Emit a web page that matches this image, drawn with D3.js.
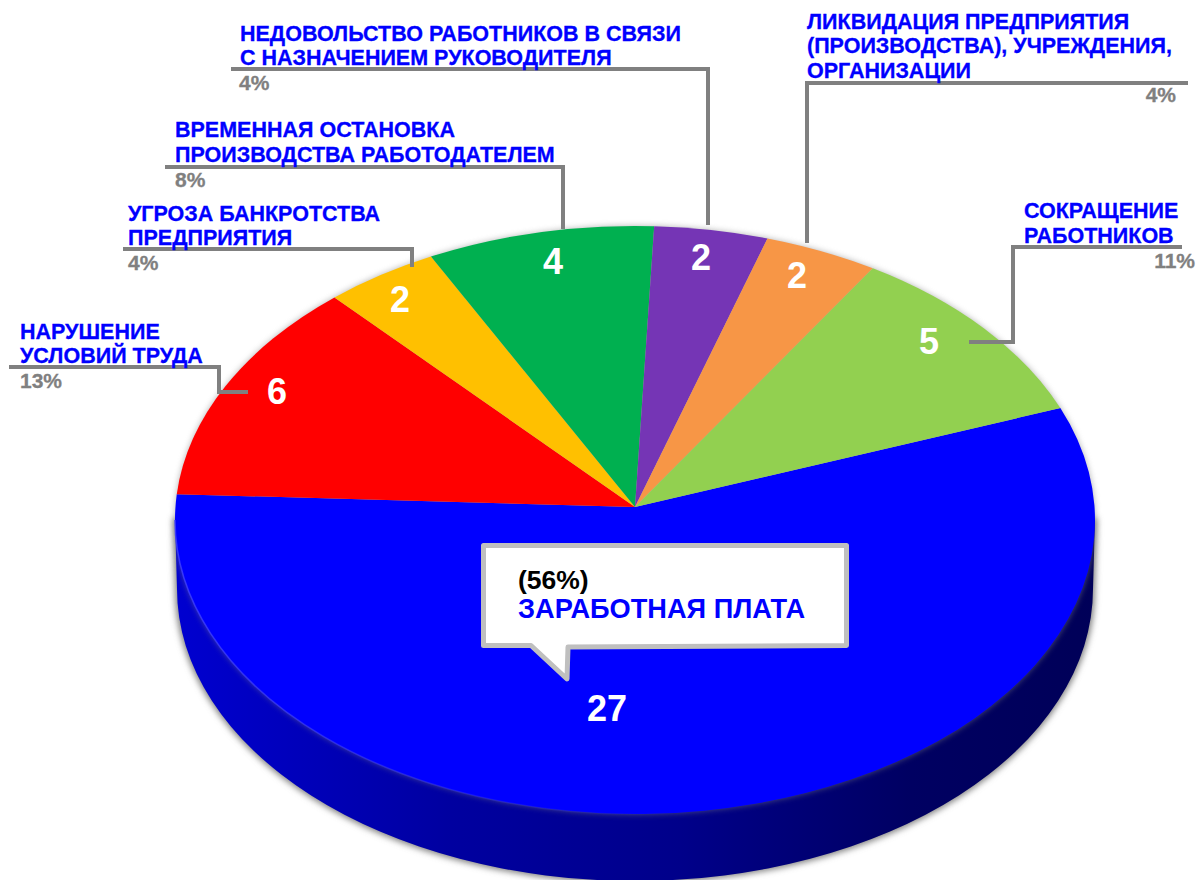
<!DOCTYPE html>
<html>
<head>
<meta charset="utf-8">
<script src="https://cdn.jsdelivr.net/npm/d3@7"></script>
<style>
  html, body { margin: 0; padding: 0; background: #fff; overflow: hidden; }
  text { font-family: "Liberation Sans", Arial, sans-serif; font-weight: bold; }
</style>
</head>
<body>
<div id="chart"></div>
<script>
// pie values, clockwise from the blue slice
const categories = ["ЗАРАБОТНАЯ ПЛАТА", "НАРУШЕНИЕ УСЛОВИЙ ТРУДА", "УГРОЗА БАНКРОТСТВА ПРЕДПРИЯТИЯ",
    "ВРЕМЕННАЯ ОСТАНОВКА ПРОИЗВОДСТВА РАБОТОДАТЕЛЕМ", "НЕДОВОЛЬСТВО РАБОТНИКОВ В СВЯЗИ С НАЗНАЧЕНИЕМ РУКОВОДИТЕЛЯ",
    "ЛИКВИДАЦИЯ ПРЕДПРИЯТИЯ (ПРОИЗВОДСТВА), УЧРЕЖДЕНИЯ, ОРГАНИЗАЦИИ", "СОКРАЩЕНИЕ РАБОТНИКОВ"];
const values = [27, 6, 2, 4, 2, 2, 5];
const percents = ["56%", "13%", "4%", "8%", "4%", "4%", "11%"];
const colors = ["#0000ff", "#ff0000", "#ffc000", "#00b050", "#7535b5", "#f79646", "#92d050"];

const width = 1196, height = 880;
const cx = 635, cy = 520, rx = 460, ry = 294;
const apexY = 507;   // pie centre sits above the ellipse centre (perspective)
const depth = 69;
const startAngle = 70 * Math.PI / 180;

const svg = d3.select("#chart").append("svg")
    .attr("width", width).attr("height", height)
    .style("display", "block");

const defs = svg.append("defs");

const sideGrad = defs.append("linearGradient").attr("id", "side")
    .attr("gradientUnits", "userSpaceOnUse")
    .attr("x1", cx - rx).attr("x2", cx + rx).attr("y1", 0).attr("y2", 0);
sideGrad.append("stop").attr("offset", 0).attr("stop-color", "#0000d0");
sideGrad.append("stop").attr("offset", 0.3).attr("stop-color", "#0000a0");
sideGrad.append("stop").attr("offset", 0.55).attr("stop-color", "#00008a");
sideGrad.append("stop").attr("offset", 0.8).attr("stop-color", "#000062");
sideGrad.append("stop").attr("offset", 1).attr("stop-color", "#000058");

const rimGrad = defs.append("linearGradient").attr("id", "rim")
    .attr("gradientUnits", "userSpaceOnUse")
    .attr("x1", cx - rx).attr("x2", cx + 40).attr("y1", 0).attr("y2", 0);
rimGrad.append("stop").attr("offset", 0).attr("stop-color", "#3a3aff").attr("stop-opacity", 0.9);
rimGrad.append("stop").attr("offset", 1).attr("stop-color", "#3a3aff").attr("stop-opacity", 0);

const blur = defs.append("filter").attr("id", "soft")
    .attr("x", "-5%").attr("y", "-5%").attr("width", "110%").attr("height", "110%");
blur.append("feGaussianBlur").attr("stdDeviation", 3);

// side wall + its soft shadow
const sidePath = `M${cx - rx},${cy} L${cx - rx + 2},${cy + depth} `
    + `A${rx - 2},${ry - 2} 0 0 0 ${cx + rx - 2},${cy + depth} L${cx + rx},${cy} Z`;

svg.append("path").attr("d", sidePath)
    .attr("fill", "#808080").attr("stroke", "#808080").attr("stroke-width", 4)
    .attr("filter", "url(#soft)");
svg.append("path").attr("d", sidePath).attr("fill", "url(#side)");

// slices: rays from the apex to the ellipse
const pie = d3.pie().sort(null).value(d => d)
    .startAngle(startAngle).endAngle(startAngle + 2 * Math.PI);

function edgePoint(angle) {
    const ay = (apexY - cy) / ry;
    const dx = Math.sin(angle), dy = -Math.cos(angle);
    const b = ay * dy;
    const t = -b + Math.sqrt(b * b - (ay * ay - 1));
    return [cx + rx * t * dx, cy + ry * (ay + t * dy)];
}

function slicePath(d) {
    const p0 = edgePoint(d.startAngle), p1 = edgePoint(d.endAngle);
    const large = d.endAngle - d.startAngle > Math.PI ? 1 : 0;
    return `M${cx},${apexY} L${p0[0]},${p0[1]} A${rx},${ry} 0 ${large} 1 ${p1[0]},${p1[1]} Z`;
}

svg.append("ellipse")
    .attr("cx", cx).attr("cy", cy).attr("rx", rx).attr("ry", ry)
    .attr("fill", "#808080").attr("opacity", 0.6)
    .attr("filter", "url(#soft)");

svg.append("g").selectAll("path").data(pie(values)).join("path")
    .attr("d", slicePath)
    .attr("fill", (d, i) => colors[i]);

// lighter rim on the front left edge
svg.append("path")
    .attr("d", `M${cx - rx},${cy} A${rx},${ry} 0 0 0 ${cx + 40},${cy + ry - 1}`)
    .attr("fill", "none").attr("stroke", "url(#rim)").attr("stroke-width", 1.5);

// leader lines
const leaders = [
    [[9, 367], [219, 367], [219, 392], [248, 392]],
    [[123, 249], [412, 249], [412, 267]],
    [[165, 167], [563, 167], [563, 229]],
    [[231, 69], [708, 69], [708, 225]],
    [[1188, 83], [807, 83], [807, 243]],
    [[1182, 247], [1013, 247], [1013, 342], [969, 342]]
];
const line = d3.line();
svg.append("g").selectAll("path").data(leaders).join("path")
    .attr("d", line)
    .attr("fill", "none").attr("stroke", "#808080").attr("stroke-width", 4);

// category labels, broken as in the reference
const labels = [
    { lines: ["НАРУШЕНИЕ", "УСЛОВИЙ ТРУДА"], x: 20, ys: [339, 363], pct: 1, px: 20, py: 388, anchor: "start" },
    { lines: ["УГРОЗА БАНКРОТСТВА", "ПРЕДПРИЯТИЯ"], x: 128, ys: [221, 245], pct: 2, px: 128, py: 270, anchor: "start" },
    { lines: ["ВРЕМЕННАЯ ОСТАНОВКА", "ПРОИЗВОДСТВА РАБОТОДАТЕЛЕМ"], x: 175, ys: [137, 162], pct: 3, px: 175, py: 187, anchor: "start" },
    { lines: ["НЕДОВОЛЬСТВО РАБОТНИКОВ В СВЯЗИ", "С НАЗНАЧЕНИЕМ РУКОВОДИТЕЛЯ"], x: 240, ys: [41, 65], pct: 4, px: 239, py: 90, anchor: "start" },
    { lines: ["ЛИКВИДАЦИЯ ПРЕДПРИЯТИЯ", "(ПРОИЗВОДСТВА), УЧРЕЖДЕНИЯ,", "ОРГАНИЗАЦИИ"], x: 807, ys: [29, 53, 78], pct: 5, px: 1176, py: 102, anchor: "end" },
    { lines: ["СОКРАЩЕНИЕ", "РАБОТНИКОВ"], x: 1024, ys: [218, 243], pct: 6, px: 1195, py: 268, anchor: "end" }
];

labels.forEach(l => {
    l.lines.forEach((t, i) => {
        svg.append("text").attr("x", l.x).attr("y", l.ys[i])
            .attr("font-size", 21.5).attr("fill", "#0000ff")
            .attr("stroke", "#0000ff").attr("stroke-width", 0.3).text(t);
    });
    svg.append("text").attr("x", l.px).attr("y", l.py)
        .attr("text-anchor", l.anchor)
        .attr("font-size", 21).attr("fill", "#808080")
        .attr("stroke", "#808080").attr("stroke-width", 0.3).text(percents[l.pct]);
});

// value labels on the slices
const valuePos = [[607, 721], [277, 404], [400, 312], [553, 274], [701, 270], [797, 288], [929, 354]];
svg.append("g").selectAll("text").data(values).join("text")
    .attr("x", (d, i) => valuePos[i][0])
    .attr("y", (d, i) => valuePos[i][1])
    .attr("text-anchor", "middle")
    .attr("font-size", 36).attr("fill", "#ffffff")
    .text(d => d);

// callout for the largest slice
svg.append("path")
    .attr("d", "M483.5,545.5 H846.5 V645.5 L568,647 L567,679 L531,645.5 H483.5 Z")
    .attr("fill", "#ffffff").attr("stroke", "#bfbfbf").attr("stroke-width", 5)
    .attr("stroke-linejoin", "round");
svg.append("text").attr("x", 518).attr("y", 589)
    .attr("font-size", 26.5).attr("fill", "#000000").text(`(${percents[0]})`);
svg.append("text").attr("x", 518).attr("y", 618)
    .attr("font-size", 27.2).attr("fill", "#0000ff").text(categories[0]);
</script>
</body>
</html>
